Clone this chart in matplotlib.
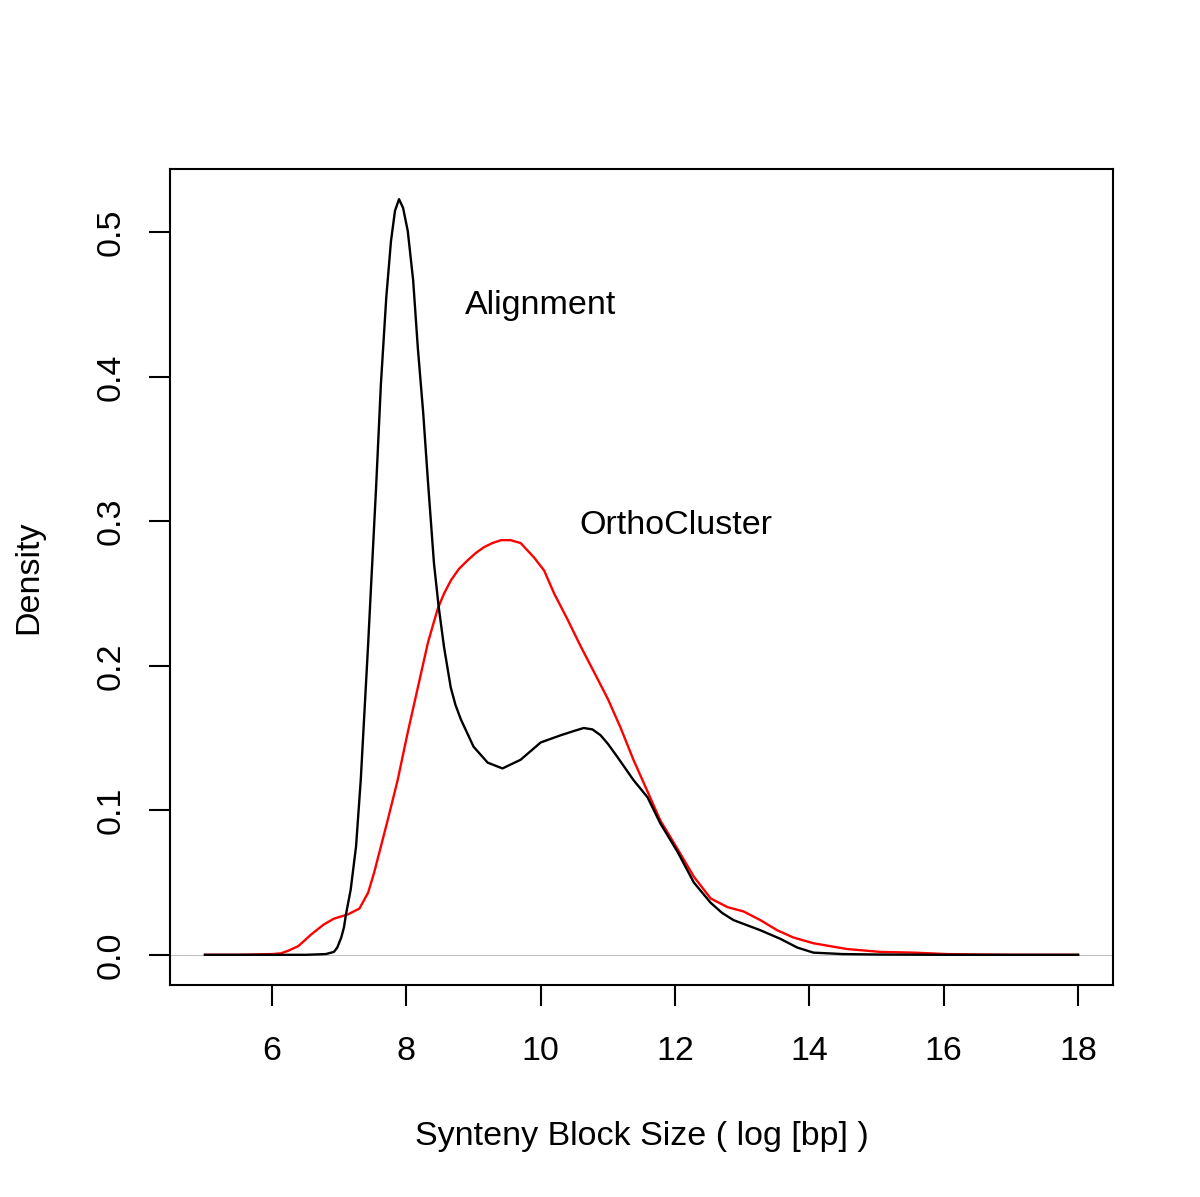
import numpy as np
import matplotlib.pyplot as plt

plt.rcParams['font.family'] = ['Liberation Sans', 'DejaVu Sans']

# density curves (log bp, density)
align_x = [5.0, 6.0, 6.5, 6.8, 6.92, 6.97, 7.03, 7.07, 7.10, 7.17, 7.25, 7.32, 7.43,
           7.47, 7.55, 7.62, 7.70, 7.77, 7.83, 7.89, 7.95, 8.02, 8.10, 8.17, 8.25,
           8.32, 8.41, 8.48, 8.56, 8.66, 8.73, 8.81, 9.00, 9.21, 9.43, 9.70, 10.0,
           10.30, 10.50, 10.64, 10.77, 10.89, 11.00, 11.14, 11.38, 11.59, 11.78,
           12.04, 12.28, 12.53, 12.70, 12.87, 13.27, 13.57, 13.82, 14.06, 14.5,
           15.0, 16.0, 17.0, 18.0]
align_y = [0, 0, 0, 0.0005, 0.002, 0.005, 0.012, 0.019, 0.028, 0.045, 0.075, 0.121,
           0.215, 0.252, 0.325, 0.395, 0.455, 0.494, 0.515, 0.523, 0.517, 0.501,
           0.467, 0.420, 0.375, 0.328, 0.271, 0.241, 0.213, 0.185, 0.173, 0.163,
           0.144, 0.133, 0.129, 0.135, 0.147, 0.152, 0.155, 0.157, 0.156, 0.152,
           0.146, 0.137, 0.121, 0.109, 0.091, 0.071, 0.050, 0.036, 0.029, 0.024,
           0.017, 0.011, 0.005, 0.0015, 0.0005, 0.0002, 0, 0, 0]

ortho_x = [5.0, 5.5, 6.0, 6.13, 6.25, 6.39, 6.58, 6.77, 6.92, 7.13, 7.30, 7.43, 7.52,
           7.62, 7.72, 7.87, 8.02, 8.17, 8.32, 8.40, 8.47, 8.56, 8.66, 8.78, 8.91,
           9.03, 9.15, 9.28, 9.41, 9.55, 9.70, 9.90, 10.05, 10.20, 10.40, 10.60,
           10.79, 11.00, 11.19, 11.38, 11.59, 11.78, 12.04, 12.28, 12.53, 12.78,
           13.02, 13.27, 13.52, 13.76, 14.06, 14.56, 15.06, 15.55, 16.05, 16.5,
           17.0, 18.0]
ortho_y = [0, 0, 0.0005, 0.001, 0.003, 0.006, 0.014, 0.021, 0.025, 0.028, 0.032,
           0.043, 0.057, 0.075, 0.093, 0.121, 0.154, 0.185, 0.216, 0.229, 0.240,
           0.250, 0.259, 0.267, 0.273, 0.278, 0.282, 0.285, 0.287, 0.287, 0.285,
           0.275, 0.266, 0.250, 0.232, 0.213, 0.196, 0.177, 0.157, 0.135, 0.113,
           0.093, 0.073, 0.054, 0.039, 0.033, 0.030, 0.024, 0.017, 0.012, 0.008,
           0.004, 0.002, 0.0015, 0.0005, 0.0002, 0, 0]

xticks = [6, 8, 10, 12, 14, 16, 18]
yticks = [0.0, 0.1, 0.2, 0.3, 0.4, 0.5]

fig = plt.figure(figsize=(12, 11.97), dpi=100)
ax = fig.add_axes([170 / 1200, 1 - 985 / 1197, (1113 - 170) / 1200, (985 - 169) / 1197])

ax.axhline(0, color='#BEBEBE', lw=0.7, zorder=1)
ax.plot(align_x, align_y, color='black', lw=1.7, zorder=3,
        solid_joinstyle='round')
ax.plot(ortho_x, ortho_y, color='#FF0000', lw=1.7, zorder=2,
        solid_joinstyle='round')

ax.set_xlim(4.48, 18.52)
ax.set_ylim(-0.0209, 0.5439)
ax.set_xticks(xticks)
ax.set_xticklabels([str(t) for t in xticks])
ax.set_yticks(yticks)
ax.set_yticklabels([f"{t:.1f}" for t in yticks], rotation=90, va='center')

for s in ax.spines.values():
    s.set_linewidth(1.5)
ax.tick_params(length=15, width=1.5, labelsize=24.5, color='black')
ax.tick_params(axis='x', pad=22)
ax.tick_params(axis='y', pad=16.5)

ax.text(10, 0.4433, "Alignment", fontsize=24.5, ha='center', va='baseline')
ax.text(12.01, 0.2911, "OrthoCluster", fontsize=24.5, ha='center', va='baseline')

fig.text(641.5 / 1200, 1 - 1145.5 / 1197, "Synteny Block Size ( log [bp] )",
         fontsize=24.5, ha='center', va='baseline')
fig.text(37 / 1200, 1 - 577 / 1197, "Density", fontsize=24.5, ha='center',
         va='baseline', rotation=90, rotation_mode='anchor')

fig.savefig("out.png", dpi=100)
plt.close(fig)
